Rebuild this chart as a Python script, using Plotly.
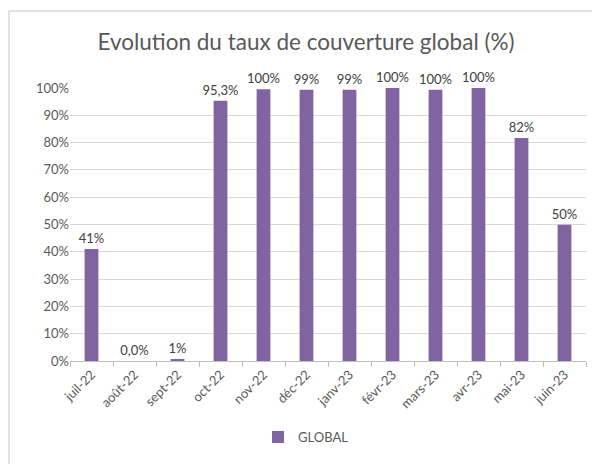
import plotly.graph_objects as go

categories = ["juil-22", "août-22", "sept-22", "oct-22", "nov-22", "déc-22",
              "janv-23", "févr-23", "mars-23", "avr-23", "mai-23", "juin-23"]
values = [0.41, 0.0, 0.006, 0.953, 0.995, 0.994, 0.994, 1.0, 0.994, 1.0, 0.817, 0.499]
labels = ["41%", "0,0%", "1%", "95,3%", "100%", "99%", "99%", "100%", "100%", "100%", "82%", "50%"]
y_ticks = [0, 0.1, 0.2, 0.3, 0.4, 0.5, 0.6, 0.7, 0.8, 0.9, 1.0]
y_tick_labels = ["0%", "10%", "20%", "30%", "40%", "50%", "60%", "70%", "80%", "90%", "100%"]

# The page body has an 8px margin, so work in figure pixels = page pixels - 8
OFF = 8
W, H = 600 - OFF, 464 - OFF
L = 70 - OFF
R = W - (586 - OFF)
T = 88 - OFF
B = H - (361 - OFF)
pw, ph = W - L - R, H - T - B

def px2x(p):
    return (p - OFF - L) / pw

def px2y(p):
    return (H - B - (p - OFF)) / ph

FONT = "Lato"
fig = go.Figure()
fig.add_trace(go.Bar(
    x=categories, y=values, name="GLOBAL",
    marker=dict(color="#8064A2", line=dict(width=0)),
    text=labels, textposition="outside", cliponaxis=False, constraintext="none",
    textfont=dict(family=FONT, size=13, color="#404040"),
    width=0.32,
))

fig.update_layout(
    width=W, height=H,
    margin=dict(l=L, r=R, t=T, b=B, autoexpand=False),
    paper_bgcolor="white", plot_bgcolor="white",
    title=dict(text="Evolution du taux de couverture global (%)",
               x=(306 - OFF) / W, xanchor="center", y=1 - (42 - OFF) / H, yanchor="middle",
               font=dict(family=FONT, size=22.5, color="#595959")),
    showlegend=True,
    legend=dict(orientation="h", x=(306 - OFF - L) / pw, xanchor="center", y=px2y(437), yanchor="middle",
                font=dict(family=FONT, size=13, color="#595959"), itemwidth=30),
    yaxis=dict(range=[0, 1.0], tickvals=y_ticks, ticktext=y_tick_labels, automargin=False,
               showgrid=True, gridcolor="#D9D9D9", gridwidth=1, zeroline=False,
               tickfont=dict(family=FONT, size=13, color="#595959"), ticks="",
               showline=False),
    xaxis=dict(tickangle=-45, tickfont=dict(family=FONT, size=13, color="#595959"), automargin=False,
               showline=True, linecolor="#BFBFBF", linewidth=1,
               ticks="outside", tickson="boundaries", ticklen=5, tickcolor="#BFBFBF"),
    shapes=[
        dict(type="line", xref="paper", yref="paper", x0=px2x(9), x1=px2x(9), y0=px2y(464), y1=px2y(11),
             line=dict(color="#D9D9D9", width=1.5)),
        dict(type="line", xref="paper", yref="paper", x0=px2x(9), x1=px2x(600), y0=px2y(11), y1=px2y(11),
             line=dict(color="#D9D9D9", width=1.5)),
    ],
)

fig.write_html("out.html")
